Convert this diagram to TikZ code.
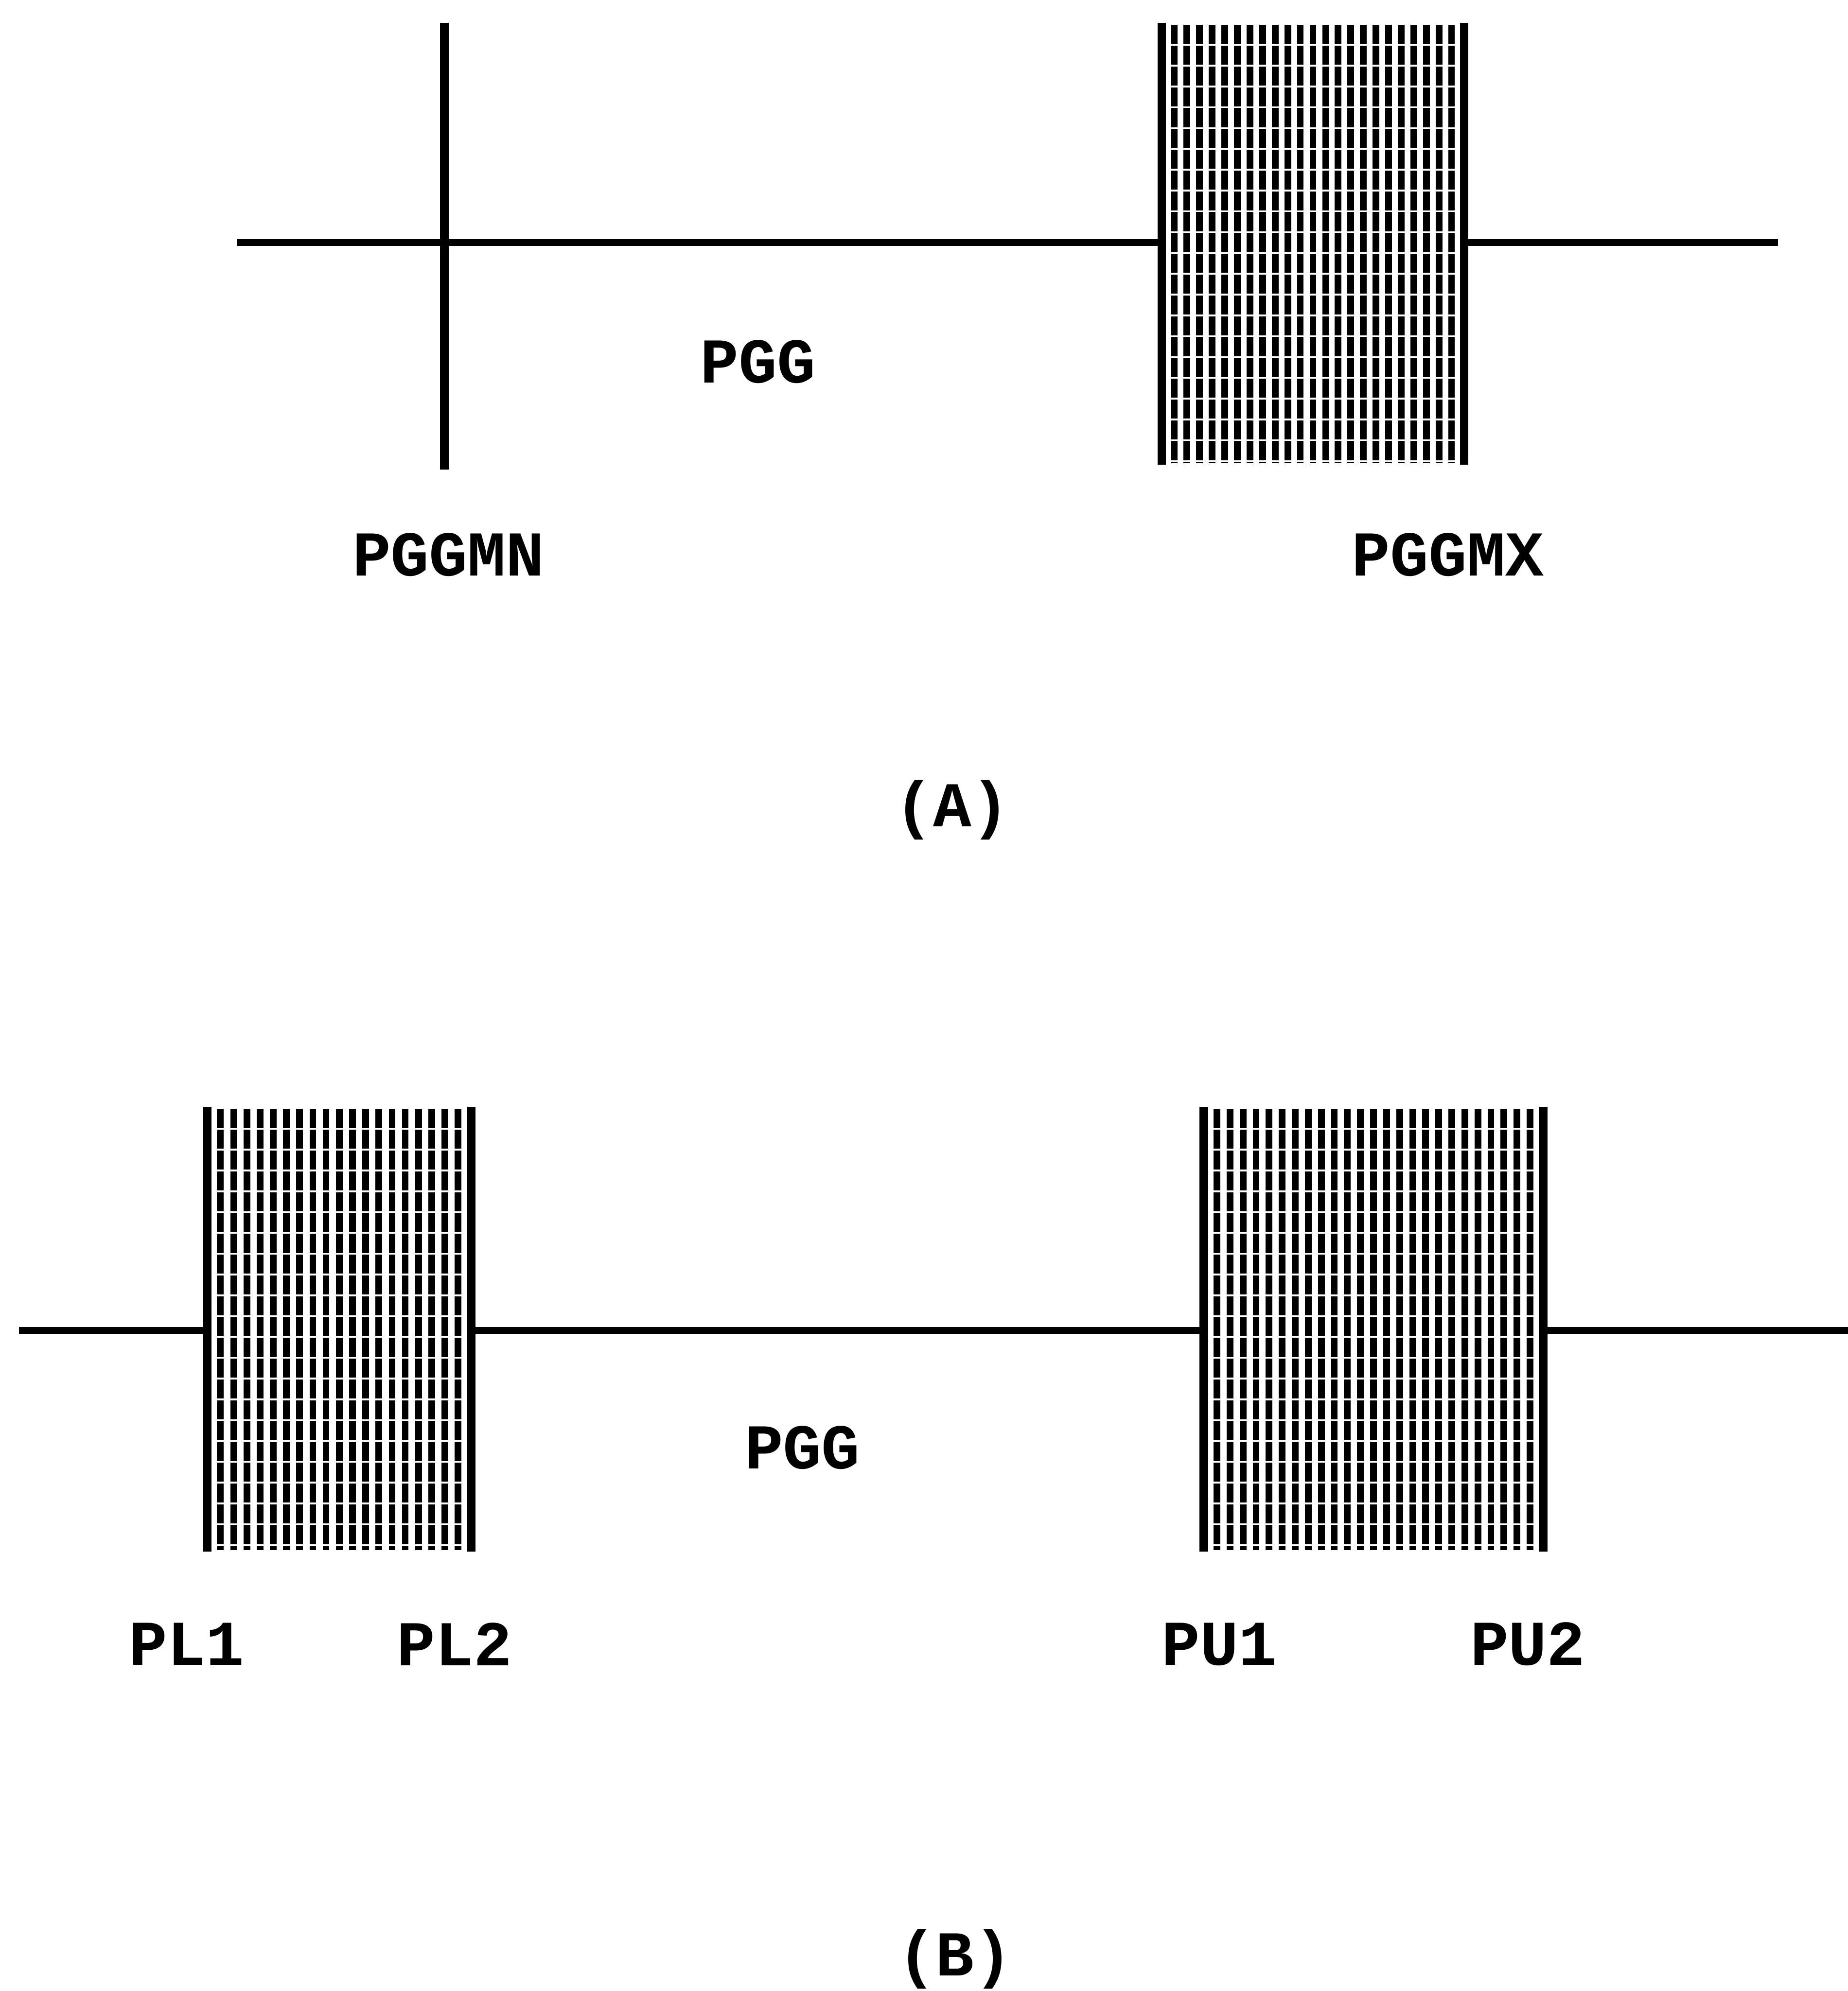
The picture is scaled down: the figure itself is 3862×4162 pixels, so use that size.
\documentclass[tikz,border=0pt]{standalone}
\usepackage{fontspec}
\setmainfont{Liberation Mono}
\begin{document}
\begin{tikzpicture}[x={(0.2pt,0)},y={(0,-0.2pt)},
  mainline/.style={line width=3pt},
  border/.style={line width=3.6pt},
  hatch/.style={line width=2.8pt, dash pattern=on 8pt off 0.7pt},
  lbl/.style={font=\bfseries\fontsize{26.7}{32}\selectfont, inner sep=0pt}]
\useasboundingbox (0,0) rectangle (3862,4162);
% ---------- (A)
\coordinate (aL) at (496,507);
\coordinate (aR) at (3716,507);
\coordinate (mnT) at (929,48);
\coordinate (mnB) at (929,982);
\draw[mainline] (aL) -- (aR);
\draw[border] (mnT) -- (mnB);
% box A
\fill[white] (2428,48) rectangle (3060,971);
\foreach \i in {1,...,23} {
  \draw[hatch] ({2428+\i*26.333},52) -- ({2428+\i*26.333},968);
}
\draw[border] (2428,48) -- (2428,971);
\draw[border] (3060,48) -- (3060,971);
\node[lbl] (pggA) at (1584,756) {PGG};
\node[lbl] (pggmn) at (937,1160) {PGGMN};
\node[lbl] (pggmx) at (3026,1160) {PGGMX};
\node[lbl] (capA) at (1990,1693) {(A)};
% ---------- (B)
\coordinate (bL) at (40,2781);
\coordinate (bR) at (3862,2781);
\draw[mainline] (bL) -- (bR);
\fill[white] (433,2314) rectangle (985,3243);
\foreach \i in {1,...,19} {
  \draw[hatch] ({433+\i*27.6},2318) -- ({433+\i*27.6},3240);
}
\draw[border] (433,2314) -- (433,3243);
\draw[border] (985,2314) -- (985,3243);
\fill[white] (2516,2314) rectangle (3225,3243);
\foreach \i in {1,...,25} {
  \draw[hatch] ({2516+\i*27.269},2318) -- ({2516+\i*27.269},3240);
}
\draw[border] (2516,2314) -- (2516,3243);
\draw[border] (3225,2314) -- (3225,3243);
\node[lbl] (pggB) at (1677,3026) {PGG};
\node[lbl] (pl1) at (390,3437) {PL1};
\node[lbl] (pl2) at (950,3437) {PL2};
\node[lbl] (pu1) at (2548,3437) {PU1};
\node[lbl] (pu2) at (3193,3437) {PU2};
\node[lbl] (capB) at (1996,4095) {(B)};
\end{tikzpicture}
\end{document}
